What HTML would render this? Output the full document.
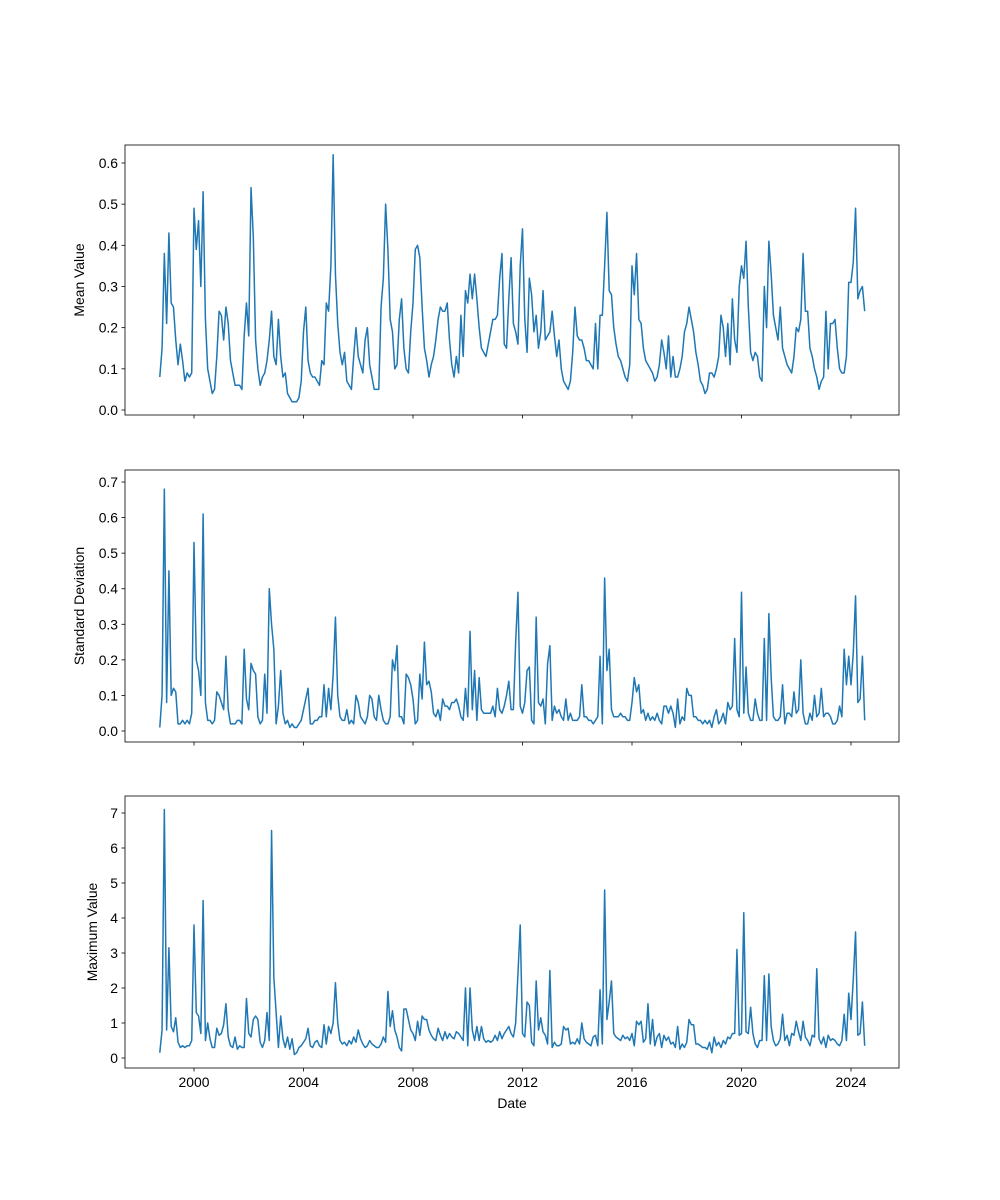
<!DOCTYPE html>
<html><head><meta charset="utf-8"><style>
body{margin:0;background:#fff}
svg{display:block;font-family:"Liberation Sans","DejaVu Sans",sans-serif}
</style></head><body>
<svg id="chart" width="1000" height="1200" xmlns="http://www.w3.org/2000/svg"></svg>
<script>
const startYear = 1998, startMonth = 10;
const meanValues = [.08,.15,.38,
.21,.43,.26,.25,.17,.11,.16,.12,.07,.09,.08,.09,
.49,.39,.46,.30,.53,.22,.10,.07,.04,.05,.13,.24,
.23,.17,.25,.21,.12,.09,.06,.06,.06,.05,.18,.26,
.18,.54,.42,.17,.10,.06,.08,.09,.12,.17,.24,.13,
.11,.22,.13,.08,.09,.04,.03,.02,.02,.02,.03,.07,
.19,.25,.12,.09,.08,.08,.07,.06,.12,.11,.26,.24,
.35,.62,.33,.21,.14,.11,.14,.07,.06,.05,.13,.20,
.13,.11,.09,.17,.20,.11,.08,.05,.05,.05,.25,.32,
.50,.39,.22,.19,.10,.11,.22,.27,.15,.10,.09,.19,
.26,.39,.40,.37,.25,.15,.12,.08,.11,.13,.17,.22,
.25,.24,.24,.26,.17,.11,.08,.13,.09,.23,.13,.29,
.26,.33,.27,.33,.27,.20,.15,.14,.13,.16,.19,.22,
.22,.23,.32,.38,.16,.15,.27,.37,.21,.19,.16,.35,
.44,.22,.14,.32,.28,.19,.23,.15,.19,.29,.17,.18,
.19,.24,.18,.13,.17,.10,.07,.06,.05,.07,.14,.25,
.18,.17,.17,.15,.12,.12,.11,.10,.21,.10,.23,.23,
.35,.48,.29,.28,.20,.16,.13,.12,.10,.08,.07,.11,
.35,.28,.38,.22,.21,.15,.12,.11,.10,.09,.07,.08,
.11,.17,.14,.10,.18,.08,.13,.08,.08,.10,.13,.19,
.21,.25,.22,.19,.14,.11,.07,.06,.04,.05,.09,.09,
.08,.10,.13,.23,.20,.13,.21,.11,.27,.17,.14,.30,
.35,.32,.41,.25,.14,.12,.14,.13,.08,.07,.30,.20,
.41,.33,.23,.20,.17,.25,.15,.13,.11,.10,.09,.13,
.20,.19,.22,.38,.24,.24,.15,.13,.10,.08,.05,.07,
.08,.24,.10,.21,.21,.22,.15,.10,.09,.09,.13,.31,
.31,.36,.49,.27,.29,.30,.24];
const stdValues = [.01,.10,.68,
.08,.45,.10,.12,.11,.02,.02,.03,.02,.03,.02,.05,
.53,.20,.17,.10,.61,.08,.03,.03,.02,.03,.11,.10,
.08,.06,.21,.06,.02,.02,.02,.03,.03,.02,.23,.09,
.06,.19,.17,.16,.04,.02,.03,.16,.05,.40,.30,.23,
.02,.07,.17,.05,.02,.03,.01,.02,.01,.01,.02,.03,
.06,.09,.12,.02,.02,.03,.03,.04,.04,.13,.04,.12,
.06,.16,.32,.10,.04,.03,.03,.06,.02,.03,.02,.10,
.08,.04,.03,.02,.04,.10,.09,.04,.03,.10,.06,.03,
.02,.02,.04,.20,.17,.24,.04,.04,.02,.16,.15,.13,
.09,.02,.03,.16,.09,.25,.13,.14,.11,.05,.04,.06,
.03,.09,.07,.07,.06,.08,.08,.09,.07,.04,.03,.12,
.04,.28,.06,.17,.03,.15,.06,.05,.05,.05,.05,.07,
.04,.12,.06,.05,.07,.10,.14,.06,.06,.25,.39,.07,
.05,.08,.17,.18,.03,.02,.32,.08,.07,.09,.02,.19,
.24,.03,.07,.05,.06,.04,.03,.09,.03,.05,.03,.03,
.03,.04,.13,.04,.04,.03,.03,.02,.03,.04,.21,.02,
.43,.17,.23,.06,.04,.04,.04,.05,.04,.04,.03,.03,
.08,.15,.11,.13,.05,.06,.03,.05,.03,.04,.03,.05,
.03,.02,.07,.07,.05,.07,.05,.01,.09,.02,.04,.03,
.12,.10,.10,.04,.04,.03,.03,.02,.03,.02,.03,.01,
.04,.06,.02,.03,.05,.02,.08,.06,.07,.26,.06,.04,
.39,.05,.18,.05,.03,.03,.09,.05,.03,.03,.26,.03,
.33,.15,.04,.03,.03,.04,.13,.02,.05,.05,.04,.11,
.05,.06,.20,.05,.02,.02,.05,.03,.10,.04,.05,.12,
.04,.05,.05,.04,.02,.02,.03,.07,.04,.23,.13,.21,
.13,.22,.38,.08,.09,.21,.03];
const maxValues = [.15,.8,7.1,
.8,3.15,.9,.75,1.15,.45,.3,.35,.3,.35,.35,.5,
3.8,1.3,1.2,.7,4.5,.5,1.0,.55,.3,.3,.85,.65,
.7,.95,1.55,.6,.35,.3,.6,.25,.35,.3,.3,1.7,
.7,.6,1.1,1.2,1.1,.45,.3,.5,1.3,.5,6.5,2.3,
1.3,.3,1.2,.55,.3,.6,.25,.55,.1,.15,.3,.35,
.45,.55,.85,.35,.3,.45,.5,.35,.3,.95,.4,.9,
.7,1.0,2.15,1.0,.5,.4,.45,.35,.5,.4,.6,.45,
.8,.55,.4,.3,.35,.5,.4,.35,.3,.3,.4,.6,
.45,1.9,.9,1.35,.8,.6,.3,.2,1.4,1.4,1.1,.8,
.7,.5,1.05,.65,1.2,1.1,1.1,.8,.65,.55,.5,.85,
.65,.5,.75,.55,.7,.6,.55,.75,.7,.6,.5,2.0,
.35,2.0,.8,.5,.9,.5,.9,.55,.45,.5,.45,.5,
.65,.5,.75,.55,.7,.8,.9,.7,.6,1.0,2.4,3.8,
.7,.6,1.6,1.5,.45,.35,2.2,.8,1.15,.75,.65,.4,
2.5,.3,.45,.35,.35,.4,.9,.8,.85,.4,.45,.4,
.55,.4,1.0,.55,.45,.4,.35,.6,.65,.35,1.95,.4,
4.8,1.1,1.6,2.2,.7,.6,.55,.5,.65,.55,.6,.5,
.7,.35,1.05,.95,1.05,.45,.55,1.55,.4,1.1,.35,.6,
.7,.3,.65,.5,.6,.4,.45,.3,.9,.25,.4,.3,
.45,1.1,.95,.95,.4,.4,.35,.3,.3,.25,.45,.15,
.6,.35,.45,.3,.5,.4,.6,.55,.7,.7,3.1,.65,
.7,4.15,.75,.7,1.45,.7,.4,.3,.5,.5,2.35,.5,
2.4,.9,.5,.35,.4,.55,1.25,.5,.65,.35,.7,.65,
1.05,.75,.5,1.05,.6,.5,.35,.65,.6,2.55,.55,.4,
.6,.3,.65,.5,.55,.5,.4,.35,.5,1.25,.5,1.85,
1.1,2.25,3.6,.65,.7,1.6,.35];
const xTicks = [2000,2004,2008,2012,2016,2020,2024];
const meanTicks = [0,0.1,0.2,0.3,0.4,0.5,0.6];
const stdTicks = [0,0.1,0.2,0.3,0.4,0.5,0.6,0.7];
const maxTicks = [0,1,2,3,4,5,6,7];

const NS = "http://www.w3.org/2000/svg";
const svg = document.getElementById('chart');
function mk(tag, attrs, parent){const e=document.createElementNS(NS,tag);for(const k in attrs)e.setAttribute(k,attrs[k]);(parent||svg).appendChild(e);return e;}
const L=125,R=899;
function xScale(t){return 194+(t-2000)*27.375;}
function tOf(i){const m=startMonth-1+i;return startYear+Math.floor(m/12)+(m%12)/12;}

const panels=[
 {name:'mean',vals:meanValues,ticks:meanTicks,top:145,bot:415,y0:410,per:411.7,fmt:v=>v.toFixed(1),label:'Mean Value',lx:84},
 {name:'std',vals:stdValues,ticks:stdTicks,top:470,bot:742,y0:731,per:355.7,fmt:v=>v.toFixed(1),label:'Standard Deviation',lx:84},
 {name:'max',vals:maxValues,ticks:maxTicks,top:796,bot:1068,y0:1058,per:35,fmt:v=>String(v),label:'Maximum Value',lx:97}
];
panels.forEach((p,pi)=>{
  const g=mk('g',{});
  
  
  const y=v=>p.y0-v*p.per;
  p.ticks.forEach(v=>{
    const t=mk('line',{x1:L-3.5,x2:L,y1:y(v),y2:y(v),stroke:'#000','stroke-width':0.8},g);
    
    
    const tx=mk('text',{x:L-7,y:y(v)+5,'text-anchor':'end','font-size':'13.9'},g);
    tx.textContent=p.fmt(v);
    
    
  });
  xTicks.forEach(yr=>{
    const t=mk('line',{x1:xScale(yr),x2:xScale(yr),y1:p.bot,y2:p.bot+3.5,stroke:'#000','stroke-width':0.8},g);
    
    
    if(pi===2){
      const tx=mk('text',{x:xScale(yr),y:p.bot+19,'text-anchor':'middle','font-size':'13.9'},g);
      tx.textContent=yr;
      
      
    }
  });
  const d=p.vals.map((v,i)=>(i?'L':'M')+xScale(tOf(i)).toFixed(2)+','+y(v).toFixed(2)).join('');
  const line=mk('path',{d:d,fill:'none',stroke:'#1f77b4','stroke-width':1.5,'stroke-linejoin':'round'},g);
  
  
  const fr=mk('rect',{x:L,y:p.top,width:R-L,height:p.bot-p.top,fill:'none',stroke:'#000','stroke-width':0.8},g);
  
  
  const cy=(p.top+p.bot)/2;
  const lb=mk('text',{x:p.lx,y:cy,'text-anchor':'middle','font-size':'13.9',transform:`rotate(-90 ${p.lx} ${cy})`},g);
  lb.textContent=p.label;
  
  
});
const xl=mk('text',{x:512,y:1108,'text-anchor':'middle','font-size':'13.9'});
xl.textContent='Date';


</script>
</body></html>
